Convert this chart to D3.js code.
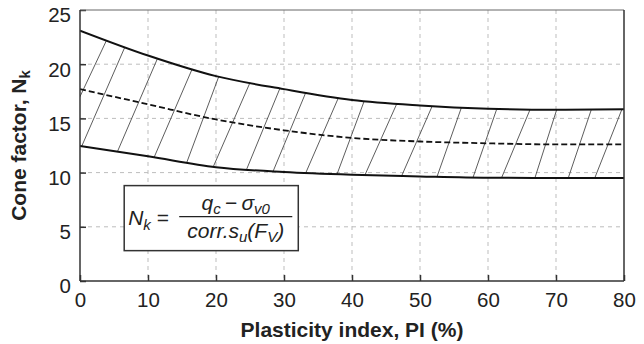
<!DOCTYPE html>
<html>
<head>
<meta charset="utf-8">
<script src="https://cdn.jsdelivr.net/npm/d3@7"></script>
<style>
  html, body { margin: 0; padding: 0; background: #fff; }
  svg { display: block; font-family: "Liberation Sans", Arial, Helvetica, sans-serif; }
</style>
</head>
<body>
<svg id="chart" width="644" height="344"></svg>
<script>
// plasticity index sample points and the three curves
const piPoints = [0, 10, 20, 30, 40, 50, 60, 70, 80];
const upperNk = [23.1, 20.8, 18.9, 17.7, 16.7, 16.2, 15.9, 15.8, 15.85];
const meanNk = [17.7, 16.3, 14.9, 13.9, 13.2, 12.87, 12.7, 12.6, 12.6];
const lowerNk = [12.45, 11.5, 10.5, 10.05, 9.8, 9.65, 9.53, 9.5, 9.5];

// hatch lines: PI where each stroke leaves the lower curve / meets the upper curve
const hatchBottom = [-3.2, 0.25, 5.5, 10.9, 15.7, 19.6, 24.5, 28.4, 33.2, 37.8, 41.9, 47.3, 52.5, 57.8, 62.0, 66.9, 71.8, 75.7];
const hatchTop = [3.9, 6.6, 11.4, 16.5, 20.4, 25.0, 29.4, 33.2, 38.0, 41.8, 46.6, 51.8, 56.1, 61.3, 66.2, 70.1, 75.2, 79.7];

const xTicks = [0, 10, 20, 30, 40, 50, 60, 70, 80];
const yTicks = [0, 5, 10, 15, 20, 25];

const margin = { top: 10, right: 20, bottom: 63, left: 80 };
const W = 644, H = 344;
const width = W - margin.left - margin.right;
const height = H - margin.top - margin.bottom;

const svg = d3.select("#chart");
const g = svg.append("g").attr("transform", `translate(${margin.left},${margin.top})`);

const x = d3.scaleLinear().domain([0, 80]).range([0, width]);
const y = d3.scaleLinear().domain([0, 25]).range([height, 0]);

// clip
svg.append("defs").append("clipPath").attr("id", "plotclip")
  .append("rect").attr("width", width).attr("height", height);

// grid
const grid = g.append("g").attr("stroke", "#bdbdbd").attr("stroke-width", 1).attr("stroke-dasharray", "4,4");
grid.selectAll("line.v").data(xTicks.filter(d => d > 0 && d < 80)).join("line")
  .attr("x1", d => x(d)).attr("x2", d => x(d)).attr("y1", 0).attr("y2", height);
grid.selectAll("line.h").data(yTicks.filter(d => d > 0 && d < 25)).join("line")
  .attr("y1", d => y(d)).attr("y2", d => y(d)).attr("x1", 0).attr("x2", width);

const plot = g.append("g").attr("clip-path", "url(#plotclip)");

// hatching between the bounds
const lowerAt = d3.scaleLinear().domain(piPoints).range(lowerNk);
const upperAt = d3.scaleLinear().domain(piPoints).range(upperNk);
plot.append("g").selectAll("line").data(d3.zip(hatchBottom, hatchTop)).join("line")
  .attr("x1", d => x(d[0])).attr("y1", d => y(lowerAt(d[0])))
  .attr("x2", d => x(d[1])).attr("y2", d => y(upperAt(d[1])))
  .attr("stroke", "#333").attr("stroke-width", 0.8);

const line = d3.line().x(d => x(d[0])).y(d => y(d[1])).curve(d3.curveMonotoneX);

plot.append("path").datum(d3.zip(piPoints, upperNk)).attr("d", line)
  .attr("fill", "none").attr("stroke", "#111").attr("stroke-width", 2);
plot.append("path").datum(d3.zip(piPoints, lowerNk)).attr("d", line)
  .attr("fill", "none").attr("stroke", "#111").attr("stroke-width", 2);
plot.append("path").datum(d3.zip(piPoints, meanNk)).attr("d", line)
  .attr("fill", "none").attr("stroke", "#111").attr("stroke-width", 1.8)
  .attr("stroke-dasharray", "6,3");

// axes
const xAxis = g.append("g").attr("transform", `translate(0,${height})`)
  .call(d3.axisBottom(x).tickValues(xTicks).tickSize(-6).tickPadding(11));
const yAxis = g.append("g")
  .call(d3.axisLeft(y).tickValues(yTicks).tickSize(-6).tickPadding(9));
[xAxis, yAxis].forEach(a => {
  a.select(".domain").remove();
  a.selectAll(".tick line").attr("stroke", "#333").attr("stroke-width", 1.5);
  a.selectAll(".tick text").attr("font-size", 20.5).attr("fill", "#222")
    .attr("font-family", "Liberation Sans, Arial, sans-serif");
});
yAxis.selectAll(".tick text").attr("dy", "0.58em");

// frame
g.append("line").attr("x1", 0).attr("x2", width).attr("y1", 0).attr("y2", 0)
  .attr("stroke", "#666").attr("stroke-width", 1);
g.append("line").attr("x1", width).attr("x2", width).attr("y1", 0).attr("y2", height)
  .attr("stroke", "#333").attr("stroke-width", 1.5);
g.append("line").attr("x1", 0).attr("x2", 0).attr("y1", 0).attr("y2", height)
  .attr("stroke", "#333").attr("stroke-width", 1.5);
g.append("line").attr("x1", 0).attr("x2", width).attr("y1", height).attr("y2", height)
  .attr("stroke", "#333").attr("stroke-width", 1.5);

// axis titles
svg.append("text").attr("x", margin.left + width / 2).attr("y", 337)
  .attr("text-anchor", "middle").attr("font-size", 21).attr("font-weight", "bold")
  .attr("fill", "#222").text("Plasticity index, PI (%)");

const yl = svg.append("text")
  .attr("transform", `translate(26,${margin.top + height / 2}) rotate(-90)`)
  .attr("text-anchor", "middle").attr("font-size", 21).attr("font-weight", "bold")
  .attr("fill", "#222");
yl.append("tspan").text("Cone factor, N");
yl.append("tspan").attr("font-size", 15).attr("dy", 4).text("k");

// formula box
const bx0 = x(6.5), bx1 = x(32.1), by0 = y(8.8), by1 = y(2.8);
const box = g.append("g");
box.append("rect").attr("x", bx0).attr("y", by0).attr("width", bx1 - bx0).attr("height", by1 - by0)
  .attr("fill", "#fff").attr("stroke", "#333").attr("stroke-width", 1.5);

const fs = 21, sub = 15;
const fy = (by0 + by1) / 2 - 1.5;
const lhs = box.append("text").attr("x", bx0 + 4).attr("y", fy + 8)
  .attr("font-size", fs).attr("font-style", "italic").attr("fill", "#222");
lhs.append("tspan").text("N");
lhs.append("tspan").attr("font-size", sub).attr("dy", 5).text("k");
lhs.append("tspan").attr("dy", -5).attr("font-style", "normal").text(" = ");

const barX0 = bx0 + 55, barX1 = bx1 - 6;
box.append("line").attr("x1", barX0).attr("x2", barX1).attr("y1", fy).attr("y2", fy)
  .attr("stroke", "#222").attr("stroke-width", 1.4);

const num = box.append("text").attr("x", (barX0 + barX1) / 2).attr("y", fy - 7)
  .attr("text-anchor", "middle").attr("font-size", fs).attr("font-style", "italic").attr("fill", "#222");
num.append("tspan").text("q");
num.append("tspan").attr("font-size", sub).attr("dy", 4).text("c");
num.append("tspan").attr("dy", -4).attr("font-style", "normal").text("\u2009\u2212\u2009");
num.append("tspan").text("\u03c3");
num.append("tspan").attr("font-size", sub).attr("dy", 4).text("v0");

const den = box.append("text").attr("x", (barX0 + barX1) / 2).attr("y", fy + 21)
  .attr("text-anchor", "middle").attr("font-size", fs).attr("font-style", "italic").attr("fill", "#222");
den.append("tspan").text("corr.s");
den.append("tspan").attr("font-size", sub).attr("dy", 4).text("u");
den.append("tspan").attr("dy", -4).text("(F");
den.append("tspan").attr("font-size", sub).attr("dy", 4).text("V");
den.append("tspan").attr("dy", -4).text(")");
</script>
</body>
</html>
